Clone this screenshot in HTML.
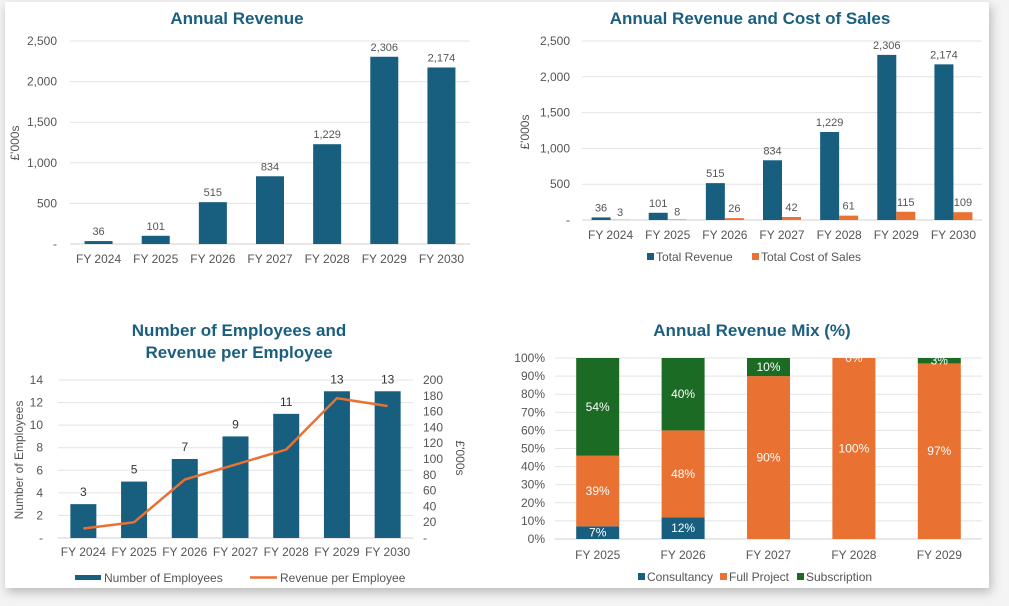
<!DOCTYPE html>
<html><head><meta charset="utf-8"><style>
html,body{margin:0;padding:0;background:#f4f4f4;}
body{width:1009px;height:606px;overflow:hidden;position:relative;font-family:"Liberation Sans",Arial,sans-serif;}
#card{position:absolute;left:5px;top:2px;width:984px;height:586px;background:#fff;box-shadow:2px 4px 10px rgba(0,0,0,0.25);}
svg{position:absolute;left:0;top:0;}
</style></head><body>
<div id="card"></div>
<svg id="s" width="1009" height="606"></svg>
<script>
const years7 = ["FY 2024","FY 2025","FY 2026","FY 2027","FY 2028","FY 2029","FY 2030"];
const revenue = [36,101,515,834,1229,2306,2174];
const costOfSales = [3,8,26,42,61,115,109];
const employees = [3,5,7,9,11,13,13];
const revPerEmployee = [12,20,74,93,112,177,167];
const revTicks = [0,500,1000,1500,2000,2500];
const empTicks = [0,2,4,6,8,10,12,14];
const rpeTicks = [0,20,40,60,80,100,120,140,160,180,200];
const mixYears = ["FY 2025","FY 2026","FY 2027","FY 2028","FY 2029"];
const consultancy = [7,12,0,0,0];
const fullProject = [39,48,90,100,97];
const subscription = [54,40,10,0,3];
const pctTicks = [0,10,20,30,40,50,60,70,80,90,100];

const BLUE="#175e7f", ORANGE="#e97132", GREEN="#1b6b24", TITLE="#1b5f80", GRID="#e3e3e3", TXT="#555";
const S=document.getElementById('s'), NS="http://www.w3.org/2000/svg";
function el(tag,attrs,name,txt){const e=document.createElementNS(NS,tag);for(const k in attrs)e.setAttribute(k,attrs[k]);


if(txt!==undefined)e.textContent=txt;S.appendChild(e);return e;}
function fmt(v){return v===0?"-":v.toLocaleString("en-GB");}
function text(x,y,t,name,o={}){return el('text',Object.assign({x:x,y:y,'font-size':12,fill:TXT,'text-anchor':'middle'},o),name,t);}

// ---------- Chart 1: Annual Revenue ----------
(function(){
 const x0=70,x1=470,yb=244,yt=41,max=2500;
 const Y=v=>yb-(v/max)*(yb-yt), bw=(x1-x0)/years7.length, X=i=>x0+bw*(i+0.5);
 text(237,24,"Annual Revenue","chart1-title",{'font-size':17,'font-weight':'bold',fill:TITLE});
 revTicks.forEach(t=>{ if(t>0) el('line',{x1:x0,x2:x1,y1:Y(t),y2:Y(t),stroke:GRID,'stroke-width':1},'chart1-gridline');
  text(57,Y(t)+4,fmt(t),'chart1-y-tick',{'text-anchor':'end'});});
 el('line',{x1:x0,x2:x1,y1:yb,y2:yb,stroke:"#d0d0d0"},'chart1-x-axis');
 text(0,0,"£'000s",'chart1-y-axis-title',{transform:"translate(19,143) rotate(-90)"});
 revenue.forEach((v,i)=>{el('rect',{x:X(i)-14,y:Y(v),width:28,height:yb-Y(v),fill:BLUE},'chart1-bar-'+years7[i].replace(' ','').toLowerCase());
  text(X(i),Y(v)-6,fmt(v),'chart1-bar-label',{'font-size':11});
  text(X(i),263,years7[i],'chart1-x-tick');});
})();

// ---------- Chart 2: Revenue & Cost of Sales ----------
(function(){
 const x0=582,x1=982,yb=220,yt=41,max=2500;
 const Y=v=>yb-(v/max)*(yb-yt), bw=(x1-x0)/years7.length, X=i=>x0+bw*(i+0.5);
 text(750,24,"Annual Revenue and Cost of Sales","chart2-title",{'font-size':17,'font-weight':'bold',fill:TITLE});
 revTicks.forEach(t=>{ if(t>0) el('line',{x1:x0,x2:x1,y1:Y(t),y2:Y(t),stroke:GRID},'chart2-gridline');
  text(570,Y(t)+4,fmt(t),'chart2-y-tick',{'text-anchor':'end'});});
 el('line',{x1:x0,x2:x1,y1:yb,y2:yb,stroke:"#d0d0d0"},'chart2-x-axis');
 text(0,0,"£'000s",'chart2-y-axis-title',{transform:"translate(529,132) rotate(-90)"});
 years7.forEach((c,i)=>{
  const v=revenue[i], w=costOfSales[i];
  el('rect',{x:X(i)-19,y:Y(v),width:19,height:yb-Y(v),fill:BLUE},'chart2-revenue-bar');
  el('rect',{x:X(i),y:Y(w),width:19,height:yb-Y(w),fill:ORANGE},'chart2-cost-bar');
  text(X(i)-9.5,Y(v)-6,fmt(v),'chart2-revenue-label',{'font-size':11});
  text(X(i)+9.5,Math.min(Y(w),Y(costOfSales[i])) - 6 - (w<20?-2:0),fmt(w),'chart2-cost-label',{'font-size':11});
  text(X(i),239,c,'chart2-x-tick');});
 el('rect',{x:647,y:253,width:7,height:7,fill:BLUE},'chart2-legend-revenue-swatch');
 text(656,261,"Total Revenue",'chart2-legend-revenue',{'text-anchor':'start'});
 el('rect',{x:752,y:253,width:7,height:7,fill:ORANGE},'chart2-legend-cost-swatch');
 text(761,261,"Total Cost of Sales",'chart2-legend-cost',{'text-anchor':'start'});
})();

// ---------- Chart 3: Employees ----------
(function(){
 const x0=58,x1=413,yb=538,yt=380;
 const Y=v=>yb-(v/14)*(yb-yt), Y2=v=>yb-(v/200)*(yb-yt), bw=(x1-x0)/years7.length, X=i=>x0+bw*(i+0.5);
 text(239,336,"Number of Employees and",'chart3-title-line1',{'font-size':17,'font-weight':'bold',fill:TITLE});
 text(239,358,"Revenue per Employee",'chart3-title-line2',{'font-size':17,'font-weight':'bold',fill:TITLE});
 empTicks.forEach(t=>{ if(t>0) el('line',{x1:x0,x2:x1,y1:Y(t),y2:Y(t),stroke:GRID},'chart3-gridline');
  text(43,Y(t)+4,fmt(t),'chart3-left-tick',{'text-anchor':'end'});});
 rpeTicks.forEach(t=>text(423,Y2(t)+4,fmt(t),'chart3-right-tick',{'text-anchor':'start'}));
 el('line',{x1:x0,x2:x1,y1:yb,y2:yb,stroke:"#d0d0d0"},'chart3-x-axis');
 text(0,0,"Number of Employees",'chart3-left-axis-title',{transform:"translate(23,460) rotate(-90)"});
 text(0,0,"£'000s",'chart3-right-axis-title',{transform:"translate(456,458) rotate(90)"});
 employees.forEach((v,i)=>{el('rect',{x:X(i)-13,y:Y(v),width:26,height:yb-Y(v),fill:BLUE},'chart3-employee-bar');
  text(X(i),Y(v)-8,String(v),'chart3-bar-label',{fill:'#333'});
  text(X(i),556,years7[i],'chart3-x-tick');});
 el('polyline',{points:revPerEmployee.map((v,i)=>X(i)+','+Y2(v)).join(' '),fill:'none',stroke:ORANGE,'stroke-width':2.5},'chart3-revenue-per-employee-line');
 el('rect',{x:75,y:575,width:26,height:5,fill:BLUE},'chart3-legend-employees-swatch');
 text(104,582,"Number of Employees",'chart3-legend-employees',{'text-anchor':'start'});
 el('line',{x1:250,x2:277,y1:577.5,y2:577.5,stroke:ORANGE,'stroke-width':2.5},'chart3-legend-rpe-swatch');
 text(280,582,"Revenue per Employee",'chart3-legend-rpe',{'text-anchor':'start'});
})();

// ---------- Chart 4: Revenue Mix ----------
(function(){
 const x0=555,x1=982,yb=539,yt=358;
 const Y=v=>yb-(v/100)*(yb-yt), bw=(x1-x0)/mixYears.length, X=i=>x0+bw*(i+0.5), w=43;
 text(752,336,"Annual Revenue Mix (%)",'chart4-title',{'font-size':17,'font-weight':'bold',fill:TITLE});
 pctTicks.forEach(t=>{ if(t>0) el('line',{x1:x0,x2:x1,y1:Y(t),y2:Y(t),stroke:GRID},'chart4-gridline');
  text(545,Y(t)+4,t+'%','chart4-y-tick',{'text-anchor':'end'});});
 el('line',{x1:x0,x2:x1,y1:yb,y2:yb,stroke:"#d0d0d0"},'chart4-x-axis');
 mixYears.forEach((c,i)=>{
  let base=0;
  [[consultancy,BLUE,'consultancy'],[fullProject,ORANGE,'full-project'],[subscription,GREEN,'subscription']].forEach(([arr,col,nm])=>{
   const v=arr[i]; const top=Math.min(100,base+v);
   if(v>0) el('rect',{x:X(i)-w/2,y:Y(top),width:w,height:Y(base)-Y(top),fill:col},'chart4-'+nm+'-segment');
   if(v>0 || nm==='subscription' && fullProject[i]===100) text(X(i),(Y(base)+Y(top))/2+4,v+'%','chart4-'+nm+'-label',{fill:'#fff'});
   base=top;});
  text(X(i),559,c,'chart4-x-tick');});
 [[638,BLUE,"Consultancy"],[720,ORANGE,"Full Project"],[797,GREEN,"Subscription"]].forEach(([x,c,t])=>{
  el('rect',{x:x,y:573,width:7,height:7,fill:c},'chart4-legend-swatch');
  text(x+9,581,t,'chart4-legend-entry',{'text-anchor':'start'});});
})();
</script>
</body></html>
